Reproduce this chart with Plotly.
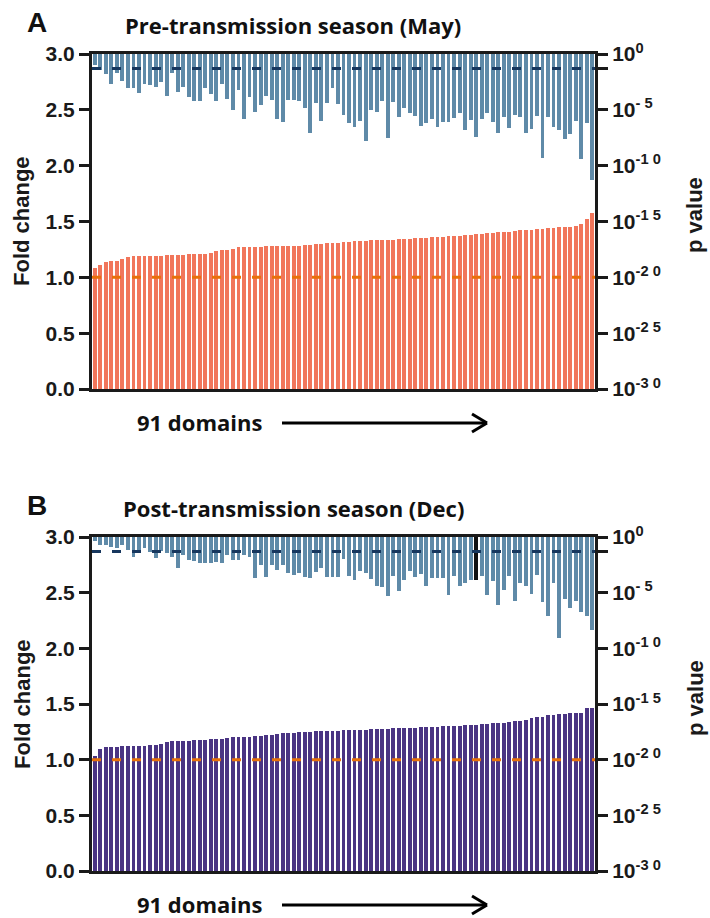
import math
import plotly.graph_objects as go
from plotly.subplots import make_subplots

# ---- data -------------------------------------------------------------
domain_idx = list(range(91))

# fold change per domain, sorted ascending
fold_may = [
    1.08, 1.11, 1.14, 1.146, 1.149, 1.161, 1.185, 1.191, 1.194, 1.194,
    1.194, 1.194, 1.194, 1.197, 1.200, 1.203, 1.203, 1.206, 1.209, 1.209,
    1.212, 1.218, 1.236, 1.242, 1.242, 1.257, 1.269, 1.275, 1.275, 1.275,
    1.275, 1.278, 1.281, 1.281, 1.281, 1.281, 1.284, 1.284, 1.287, 1.290,
    1.296, 1.299, 1.305, 1.305, 1.311, 1.314, 1.320, 1.323, 1.326, 1.328,
    1.330, 1.332, 1.334, 1.336, 1.338, 1.340, 1.342, 1.345, 1.350, 1.352,
    1.356, 1.358, 1.360, 1.364, 1.367, 1.370, 1.373, 1.377, 1.381, 1.386,
    1.390, 1.394, 1.398, 1.402, 1.406, 1.410, 1.415, 1.420, 1.424, 1.428,
    1.433, 1.437, 1.440, 1.443, 1.447, 1.450, 1.454, 1.460, 1.475, 1.520,
    1.573,
]
fold_dec = [
    1.033, 1.100, 1.110, 1.117, 1.117, 1.123, 1.123, 1.126, 1.126, 1.126,
    1.132, 1.135, 1.141, 1.159, 1.165, 1.168, 1.171, 1.171, 1.174, 1.174,
    1.177, 1.183, 1.186, 1.189, 1.192, 1.201, 1.204, 1.207, 1.207, 1.210,
    1.213, 1.219, 1.225, 1.231, 1.237, 1.240, 1.243, 1.246, 1.249, 1.252,
    1.255, 1.255, 1.258, 1.258, 1.261, 1.264, 1.264, 1.267, 1.268, 1.270,
    1.272, 1.274, 1.276, 1.278, 1.280, 1.282, 1.284, 1.286, 1.288, 1.290,
    1.292, 1.294, 1.296, 1.298, 1.300, 1.302, 1.305, 1.308, 1.311, 1.315,
    1.318, 1.322, 1.325, 1.328, 1.332, 1.338, 1.344, 1.350, 1.356, 1.378,
    1.380, 1.382, 1.398, 1.404, 1.410, 1.412, 1.415, 1.418, 1.420, 1.460,
    1.466,
]

# significance per domain, as -log10(p)
neglogp_may = [
    0.98, 1.45, 1.80, 2.72, 1.73, 2.39, 3.01, 3.01, 3.46, 2.72,
    2.78, 2.92, 2.54, 3.73, 1.73, 3.43, 2.92, 3.88, 4.21, 4.21,
    3.01, 3.61, 4.21, 2.72, 4.00, 5.01, 3.22, 5.79, 3.82, 5.19,
    4.57, 3.73, 4.12, 5.85, 6.06, 4.12, 4.12, 4.21, 4.86, 7.04,
    4.42, 6.00, 4.42, 3.01, 4.48, 5.46, 6.15, 6.57, 6.00, 7.76,
    5.01, 5.16, 4.18, 7.55, 4.27, 5.61, 4.80, 5.25, 5.52, 6.45,
    6.21, 5.85, 6.50, 6.06, 6.06, 5.70, 5.31, 6.80, 5.91, 7.46,
    5.85, 5.31, 6.06, 7.04, 5.61, 6.60, 5.49, 5.61, 7.10, 6.71,
    5.55, 9.34, 5.61, 6.57, 6.80, 7.64, 7.19, 6.00, 9.43, 6.15,
    11.28,
]
neglogp_dec = [
    0.33, 0.72, 0.72, 0.87, 1.02, 0.72, 1.17, 1.77, 1.32, 1.02,
    1.32, 1.92, 1.25, 1.47, 1.77, 2.82, 1.62, 2.07, 2.13, 2.37,
    2.37, 2.37, 2.22, 2.37, 1.62, 2.07, 2.07, 1.62, 1.77, 3.71,
    2.52, 3.56, 2.52, 2.97, 2.52, 3.26, 3.41, 3.26, 3.56, 3.71,
    3.11, 2.82, 3.56, 3.56, 3.56, 1.98, 3.47, 3.89, 3.08, 3.23,
    3.77, 4.43, 4.52, 5.27, 3.53, 4.88, 3.83, 3.08, 3.59, 3.30,
    4.43, 3.68, 3.68, 3.68, 5.18, 3.53, 4.37, 4.13, 3.83, 3.83,
    3.53, 5.18, 3.98, 6.08, 4.73, 3.53, 5.78, 4.13, 4.43, 5.09,
    3.38, 5.87, 7.07, 4.13, 9.07, 5.57, 6.38, 5.72, 6.77, 7.13,
    8.33,
]
dec_marked_domain = 69          # drawn in black in the Dec panel

fold_ticks = [0.0, 0.5, 1.0, 1.5, 2.0, 2.5, 3.0]
p_exponents = [0, 5, 10, 15, 20, 25, 30]
p_ticktext = ["10<sup>0</sup>", "10<sup>- 5</sup>", "10<sup>-1 0</sup>",
              "10<sup>-1 5</sup>", "10<sup>-2 0</sup>", "10<sup>-2 5</sup>",
              "10<sup>-3 0</sup>"]
FOLD_REF = 1.0
P_CUTOFF = 0.05

panel_titles = ["Pre-transmission season (May)", "Post-transmission season (Dec)"]
panel_letters = ["A", "B"]

# ---- styling ----------------------------------------------------------
W, H = 710, 918
FOLD_COLORS = ["#F1765B", "#4A3483"]
P_COLOR = "#5F8AA8"
NAVY = "#17375E"
ORANGE = "#E8710A"
INK = "#1a1a1a"
TICK_FONT = dict(family="Liberation Sans", size=21, color=INK, weight="bold")
LABEL_FONT = dict(family="Liberation Sans", size=22, color=INK, weight="bold")
HEAD_FONT = dict(family="Open Sans", size=22, color="#111111", weight="bold")
LETTER_FONT = dict(family="Liberation Sans", size=28, color="#111111", weight="bold")
DASH = "9px,11px"

# plot areas in pixels: (left, right, top, bottom)
boxes = [(92, 595, 54, 389), (92, 595, 537, 871)]


def px_x(p):
    return p / W


def px_y(p):
    return 1 - p / H


fig = make_subplots(rows=2, cols=1, specs=[[{"secondary_y": True}], [{"secondary_y": True}]])

panels = [(fold_may, neglogp_may), (fold_dec, neglogp_dec)]
shapes = []
annotations = []

for k, (fold, nlp) in enumerate(panels):
    row = k + 1
    p_colors = [P_COLOR] * len(domain_idx)
    if k == 1:
        p_colors[dec_marked_domain] = "#111111"

    fig.add_trace(go.Bar(x=domain_idx, y=fold, marker=dict(color=FOLD_COLORS[k], line=dict(width=0)),
                         width=0.7, showlegend=False), row=row, col=1, secondary_y=False)
    fig.add_trace(go.Bar(x=domain_idx, y=nlp, base=0, marker=dict(color=p_colors, line=dict(width=0)),
                         width=0.7, showlegend=False), row=row, col=1, secondary_y=True)

    l, r, t, b = boxes[k]
    xa = "xaxis" if k == 0 else "xaxis2"
    ya = "yaxis" if k == 0 else "yaxis3"
    ya2 = "yaxis2" if k == 0 else "yaxis4"
    fig.update_layout({
        xa: dict(domain=[px_x(l), px_x(r)], range=[-0.5, 90.5], showline=True, linecolor=INK,
                 linewidth=3, mirror=True, ticks="", showticklabels=False, showgrid=False,
                 zeroline=False, automargin=False),
        ya: dict(domain=[px_y(b), px_y(t)], range=[0, 3], tickvals=fold_ticks,
                 ticktext=[f"{v:.1f}" for v in fold_ticks], ticks="outside", ticklen=10, tickwidth=3,
                 tickcolor=INK, showline=True, linecolor=INK, linewidth=3,
                 tickfont=TICK_FONT, showgrid=False, zeroline=False, automargin=False),
        ya2: dict(range=[30, 0], tickvals=[0, -math.log10(P_CUTOFF)] + p_exponents[1:],
                  ticktext=[p_ticktext[0], ""] + p_ticktext[1:], ticks="outside", ticklen=10,
                  tickwidth=3, tickcolor=INK, showline=True, linecolor=INK, linewidth=3,
                  tickfont=TICK_FONT, showgrid=False, zeroline=False, automargin=False),
    })

    xref = "x" if k == 0 else "x2"
    yref = "y" if k == 0 else "y3"
    yref2 = "y2" if k == 0 else "y4"
    # reference fold change and p cut-off
    shapes.append(dict(type="line", xref=f"{xref} domain", x0=0, x1=1, yref=yref, y0=FOLD_REF, y1=FOLD_REF,
                       line=dict(color=ORANGE, width=3, dash=DASH)))
    shapes.append(dict(type="line", xref=f"{xref} domain", x0=0, x1=1, yref=yref2,
                       y0=-math.log10(P_CUTOFF), y1=-math.log10(P_CUTOFF),
                       line=dict(color=NAVY, width=3, dash=DASH)))

    # domain arrow below the axis
    ay = b + 34
    for x0, y0, x1, y1 in [(282, ay, 487, ay), (472, ay - 9, 487, ay), (472, ay + 9, 487, ay)]:
        shapes.append(dict(type="line", xref="paper", yref="paper", x0=px_x(x0), y0=px_y(y0),
                           x1=px_x(x1), y1=px_y(y1), line=dict(color="#000000", width=3)))
    annotations.append(dict(text="91 domains", x=px_x(199), y=px_y(ay - 1), xref="paper", yref="paper",
                            showarrow=False, font=HEAD_FONT, xanchor="center", yanchor="middle"))

    # headings and axis titles
    annotations.append(dict(text=panel_titles[k], x=px_x(293), y=px_y(t - 29), xref="paper", yref="paper",
                            showarrow=False, font=HEAD_FONT, xanchor="center", yanchor="middle"))
    annotations.append(dict(text=panel_letters[k], x=px_x(37), y=px_y(t - 31), xref="paper", yref="paper",
                            showarrow=False, font=LETTER_FONT, xanchor="center", yanchor="middle"))
    annotations.append(dict(text="Fold change", x=px_x(22), y=px_y(t + 167), xref="paper", yref="paper",
                            showarrow=False, font=LABEL_FONT, textangle=-90,
                            xanchor="center", yanchor="middle"))
    annotations.append(dict(text="p value", x=px_x(695), y=px_y(t + 161), xref="paper", yref="paper",
                            showarrow=False, font=LABEL_FONT, textangle=-90,
                            xanchor="center", yanchor="middle"))

fig.update_layout(
    width=W, height=H, margin=dict(l=0, r=0, t=0, b=0, autoexpand=False),
    paper_bgcolor="white", plot_bgcolor="white",
    barmode="overlay", bargap=0, showlegend=False,
    shapes=shapes, annotations=annotations,
)

fig.write_html("out.html")
